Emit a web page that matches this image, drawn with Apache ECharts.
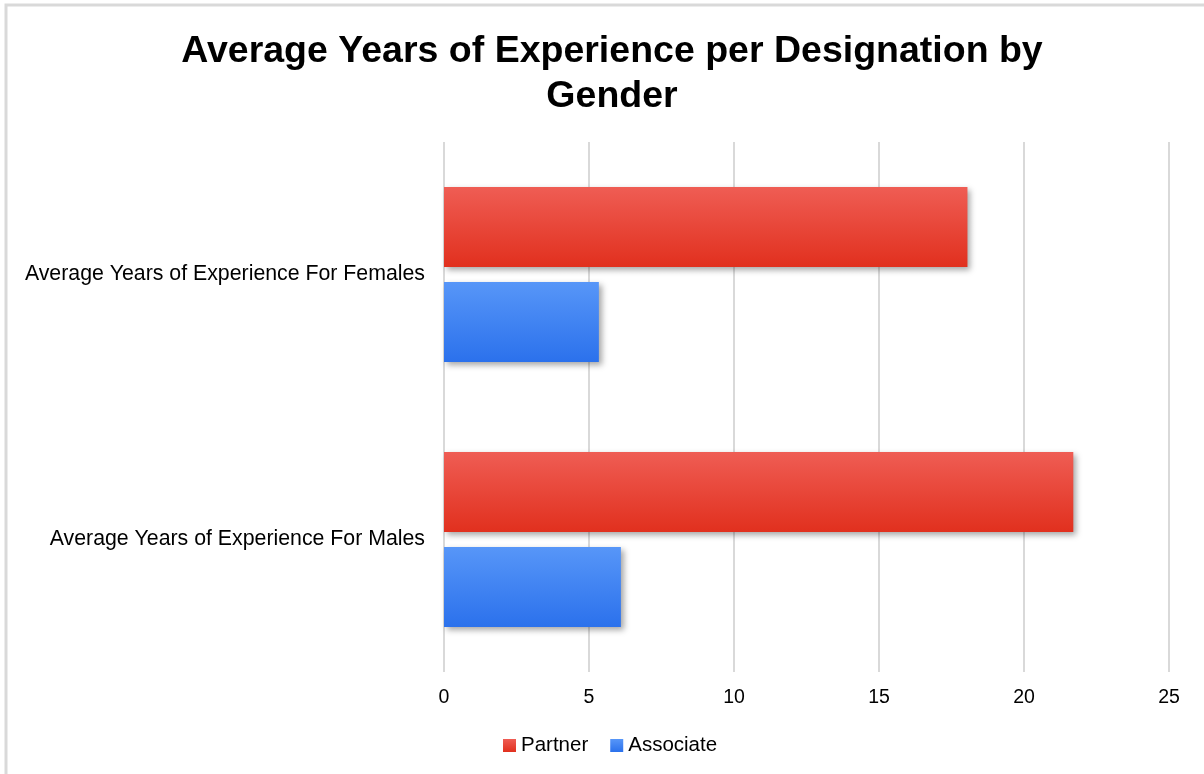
<!DOCTYPE html>
<html>
<head>
<meta charset="utf-8">
<script src="https://cdn.jsdelivr.net/npm/echarts@6/dist/echarts.min.js"></script>
<style>
  html, body { margin: 0; padding: 0; background: #ffffff; }
  #chart { width: 1204px; height: 774px; }
</style>
</head>
<body>
<div id="chart"></div>
<script>
// Categories (top to bottom) and series values, in years
const categories = ['Average Years of Experience For Females', 'Average Years of Experience For Males'];
const partnerValues = [18.05, 21.7];
const associateValues = [5.34, 6.1];
const xTicks = { min: 0, max: 25, interval: 5 };

const FONT = '"Liberation Sans", Arial, sans-serif';

function vGrad(top, bottom) {
  return new echarts.graphic.LinearGradient(0, 0, 0, 1, [
    { offset: 0, color: top },
    { offset: 1, color: bottom }
  ]);
}

const chart = echarts.init(document.getElementById('chart'), null, { renderer: 'canvas' });

chart.setOption({
  backgroundColor: '#ffffff',
  animation: false,
  graphic: [{
    type: 'rect',
    shape: { x: 6, y: 5, width: 1300, height: 900 },
    style: { fill: 'none', stroke: '#d9d9d9', lineWidth: 3 },
    silent: true
  }],
  title: {
    text: 'Average Years of Experience per Designation by\nGender',
    left: 607,
    top: 24,
    textAlign: 'center',
    textStyle: {
      fontFamily: FONT,
      fontWeight: 'bold',
      fontSize: 37.5,
      lineHeight: 45,
      color: '#000000'
    }
  },
  legend: {
    data: ['Partner', 'Associate'],
    left: 503,
    top: 735,
    padding: 0,
    itemWidth: 13,
    itemHeight: 13,
    itemGap: 22,
    icon: 'rect',
    textStyle: { fontFamily: FONT, fontSize: 20.5, color: '#000000' }
  },
  grid: { left: 444, right: 35, top: 142, bottom: 102, containLabel: false },
  xAxis: {
    type: 'value',
    min: xTicks.min,
    max: xTicks.max,
    interval: xTicks.interval,
    axisLine: { show: false },
    axisTick: { show: false },
    axisLabel: { fontFamily: FONT, fontSize: 19.5, color: '#000000', margin: 16 },
    splitLine: { show: true, lineStyle: { color: '#d9d9d9', width: 2 } }
  },
  yAxis: {
    type: 'category',
    inverse: true,
    data: categories,
    axisLine: { show: false },
    axisTick: { show: false },
    axisLabel: { fontFamily: FONT, fontSize: 21.3, color: '#000000', margin: 19 }
  },
  series: [
    {
      name: 'Partner',
      type: 'bar',
      data: partnerValues,
      barWidth: 80,
      barGap: '19%',
      itemStyle: {
        color: vGrad('#ef5d54', '#e1301e'),
        shadowColor: 'rgba(0,0,0,0.35)',
        shadowBlur: 6,
        shadowOffsetX: 3,
        shadowOffsetY: 3
      }
    },
    {
      name: 'Associate',
      type: 'bar',
      data: associateValues,
      barWidth: 80,
      barGap: '19%',
      itemStyle: {
        color: vGrad('#5796f8', '#2b71ec'),
        shadowColor: 'rgba(0,0,0,0.35)',
        shadowBlur: 6,
        shadowOffsetX: 3,
        shadowOffsetY: 3
      }
    }
  ]
});
</script>
</body>
</html>
